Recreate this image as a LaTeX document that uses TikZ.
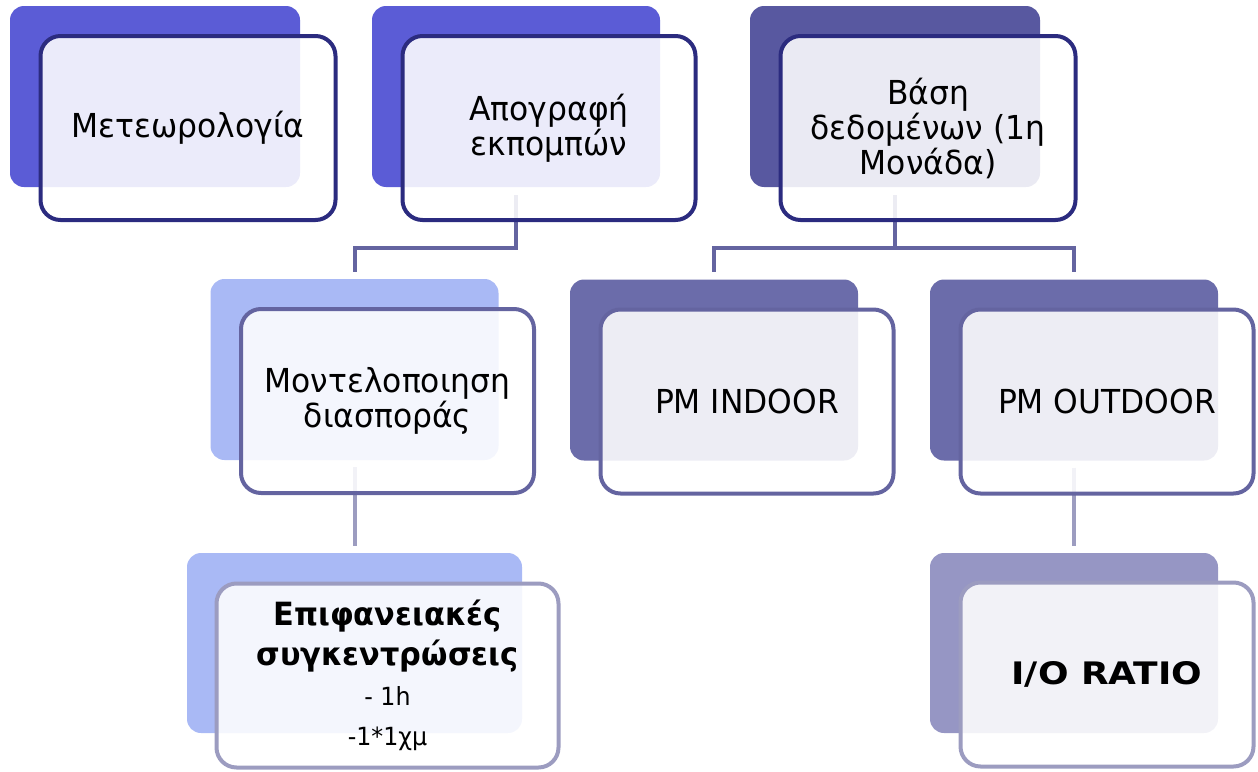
\documentclass[tikz,border=0pt]{standalone}
\usepackage{fontspec}
\setmainfont{DejaVu Sans}[FakeStretch=0.95]
\newfontfamily\ratiofont{DejaVu Sans}[FakeStretch=1.16]
\usepackage{tikz}
\usetikzlibrary{shapes,arrows}
\definecolor{topback}{RGB}{91,92,214}
\definecolor{dbback}{RGB}{88,88,160}
\definecolor{topline}{RGB}{43,43,127}
\definecolor{lightback}{RGB}{169,185,245}
\definecolor{midback}{RGB}{107,108,170}
\definecolor{midline}{RGB}{100,100,160}
\definecolor{ioback}{RGB}{150,150,196}
\definecolor{lowline}{RGB}{156,156,192}
\tikzstyle{back} = [rectangle, rounded corners=14pt, minimum width=288pt, minimum height=181pt, inner sep=0pt]
\tikzstyle{front} = [rectangle, draw, line width=4pt, rounded corners=20pt, fill=white, fill opacity=0.88, text opacity=1, minimum width=293pt, minimum height=184pt, align=center, font=\fontsize{33}{35}\selectfont]
\tikzstyle{link} = [line width=4pt]

\begin{document}
\begin{tikzpicture}[x=1pt,y=-1pt]
   \useasboundingbox (0,0) rectangle (1258,771);
   % back panels
   \node[back, fill=topback, minimum width=290pt] (meteoB) at (155,96.5) {};
   \node[back, fill=topback]   (apoB)  at (516,96.5)  {};
   \node[back, fill=dbback, minimum width=290pt] (vasiB) at (895,96.5) {};
   \node[back, fill=lightback] (modB)  at (354.5,369.5) {};
   \node[back, fill=midback]   (indB)  at (714,370)   {};
   \node[back, fill=midback]   (outB)  at (1074,370)  {};
   \node[back, fill=lightback, minimum width=335pt, minimum height=180pt] (epiB) at (354.5,643) {};
   \node[back, fill=ioback, minimum height=180pt] (ioB) at (1074,643) {};
   % connectors
   \draw[link, midline] ([yshift=-8pt]apoB.south) -- ++(0,53) -| ([yshift=7pt]modB.north);
   \draw[link, midline] ([yshift=-8pt]vasiB.south) -- ++(0,53) coordinate (vj);
   \draw[link, midline] (vj) -| ([yshift=7pt]indB.north);
   \draw[link, midline] (vj) -| ([yshift=7pt]outB.north);
   \draw[link, lowline] ([yshift=-7pt]modB.south) -- ([yshift=7pt]epiB.north);
   \draw[link, lowline] ([yshift=-7pt]outB.south) -- ([yshift=7pt]ioB.north);
   % front panels
   \node[front, draw=topline, minimum width=295pt] (meteoF) at ([shift={(33,31.5)}]meteoB.center) {Μετεωρολογία};
   \node[front, draw=topline] (apoF) at ([shift={(33,31.5)}]apoB.center) {Απογραφή\\εκπομπών};
   \node[front, draw=topline, minimum width=295pt] (vasiF) at ([shift={(33,31.5)}]vasiB.center) {Βάση\\δεδομένων (1η\\Μονάδα)};
   \node[front, draw=midline] (modF) at ([shift={(33,31.5)}]modB.center) {Μοντελοποιηση\\διασποράς};
   \node[front, draw=midline] (indF) at ([shift={(33,31.5)}]indB.center) {PM INDOOR};
   \node[front, draw=midline] (outF) at ([shift={(33,31.5)}]outB.center) {PM OUTDOOR};
   \node[front, draw=lowline, minimum width=342pt, font=\fontsize{25}{40}\selectfont] (epiF) at ([shift={(33,32.5)}]epiB.center)
      {{\bfseries\fontsize{32}{38}\selectfont Επιφανειακές}\\{\bfseries\fontsize{32}{38}\selectfont συγκεντρώσεις}\\- 1h\\-1*1χμ};
   \node[front, draw=lowline, font=\ratiofont\bfseries\fontsize{31}{34}\selectfont] (ioF) at ([shift={(33,31.5)}]ioB.center) {I/O RATIO};
\end{tikzpicture}
\end{document}
